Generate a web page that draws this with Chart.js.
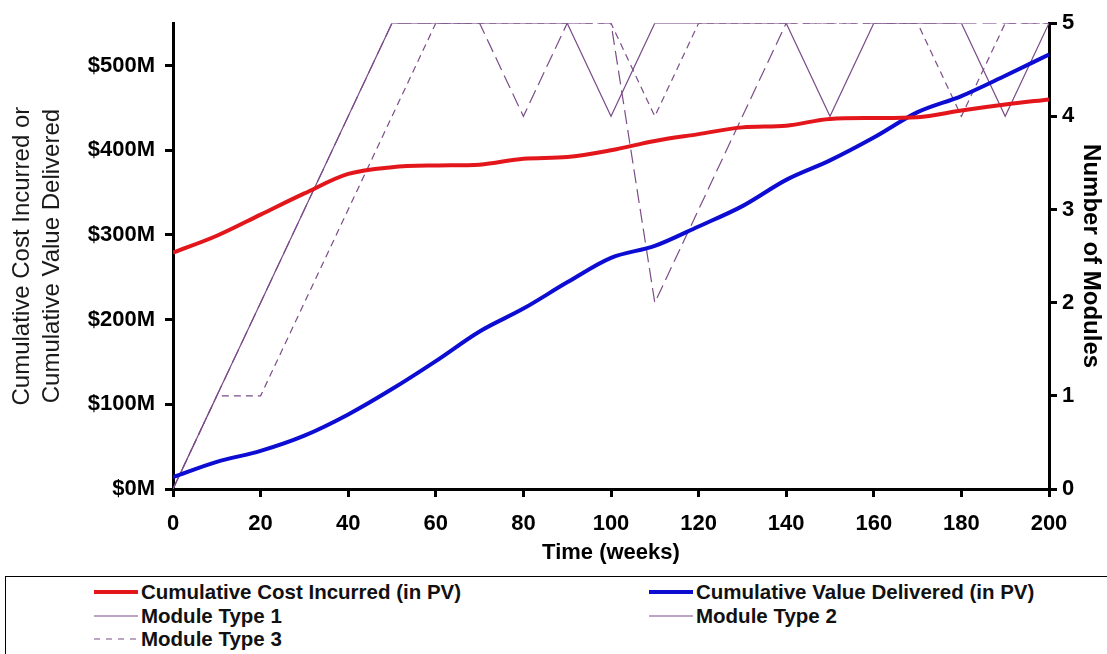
<!DOCTYPE html>
<html>
<head>
<meta charset="utf-8">
<title>Cumulative cost and value over time</title>
<script src="https://cdn.jsdelivr.net/npm/chart.js@4.4.1/dist/chart.umd.min.js"></script>
<style>
    body { margin: 0; background: #fff; font-family: 'Liberation Sans', Arial, sans-serif; }
    #wrap { position: relative; width: 1107px; height: 654px; overflow: hidden; }
    #chart { position: absolute; left: 0; top: 0; }
    #legend { position: absolute; left: 5px; top: 576px; width: 1110px; height: 100px; border: 1px solid #000; box-sizing: border-box; }
    .item { position: absolute; height: 24px; line-height: 24px; font-weight: bold; font-size: 20.5px; color: #111; white-space: nowrap; }
    .item svg { position: absolute; left: 0; top: 0; }
    .item span { position: absolute; left: 47px; top: 0; }
</style>
</head>
<body>
<div id="wrap">
    <canvas id="chart" width="1107" height="570"></canvas>
    <div id="legend"></div>
</div>
<script>
// data (every 10 weeks)
const weeks = [0, 10, 20, 30, 40, 50, 60, 70, 80, 90, 100, 110, 120, 130, 140, 150, 160, 170, 180, 190, 200];
const costIncurred = [279, 299, 324, 349, 372, 380, 382, 383, 390, 392, 400, 411, 419, 427, 429, 437, 438, 439, 447, 454, 460];
const valueDelivered = [14, 32, 45, 63, 88, 118, 151, 186, 213, 244, 273, 287, 310, 334, 365, 388, 415, 445, 464, 488, 513];
const moduleType1 = [0, 1, 2, 3, 4, 5, 5, 5, 5, 5, 4, 5, 5, 5, 5, 4, 5, 5, 5, 4, 5];
const moduleType2 = [0, 1, 2, 3, 4, 5, 5, 5, 4, 5, 5, 2, 3, 4, 5, 5, 5, 5, 5, 5, 5];
const moduleType3 = [0, 1, 1, 2, 3, 4, 5, 5, 5, 5, 5, 4, 5, 5, 5, 5, 5, 5, 4, 5, 5];

const xTicks = [0, 20, 40, 60, 80, 100, 120, 140, 160, 180, 200];
const moneyTicks = [0, 100, 200, 300, 400, 500];
const moduleTicks = [0, 1, 2, 3, 4, 5];

const RED = '#e3161b';
const BLUE = '#0c0cd2';
const PURPLE = '#7b4c88';
const FONT = "'Liberation Sans', Arial, sans-serif";

function points(values) {
    return weeks.map((w, i) => ({ x: w, y: values[i] }));
}

const tickFont = { family: FONT, size: 22, weight: 'bold' };

const chart = new Chart(document.getElementById('chart').getContext('2d'), {
    type: 'line',
    data: {
        datasets: [
            { label: 'Cumulative Cost Incurred (in PV)', data: points(costIncurred), yAxisID: 'y',
              borderColor: RED, borderWidth: 4, cubicInterpolationMode: 'monotone' },
            { label: 'Cumulative Value Delivered (in PV)', data: points(valueDelivered), yAxisID: 'y',
              borderColor: BLUE, borderWidth: 4, cubicInterpolationMode: 'monotone' },
            { label: 'Module Type 1', data: points(moduleType1), yAxisID: 'y1',
              borderColor: PURPLE, borderWidth: 1.2 },
            { label: 'Module Type 2', data: points(moduleType2), yAxisID: 'y1',
              borderColor: PURPLE, borderWidth: 1.2, borderDash: [14, 6] },
            { label: 'Module Type 3', data: points(moduleType3), yAxisID: 'y1',
              borderColor: PURPLE, borderWidth: 1.2, borderDash: [7, 5] }
        ]
    },
    options: {
        responsive: false,
        animation: false,
        elements: { point: { radius: 0 }, line: { tension: 0 } },
        layout: { padding: { top: 18, left: 0, right: 0, bottom: 0 } },
        plugins: { legend: { display: false }, tooltip: { enabled: false } },
        scales: {
            x: {
                type: 'linear', min: 0, max: 200,
                afterBuildTicks: s => { s.ticks = xTicks.map(v => ({ value: v })); },
                afterFit: s => { s.height = 81; },
                border: { color: '#000', width: 3 },
                grid: { drawOnChartArea: false, tickLength: 8, color: '#000', lineWidth: 3 },
                ticks: { color: '#000', font: tickFont, padding: 14, maxRotation: 0 },
                title: { display: true, text: 'Time (weeks)', color: '#000',
                         font: { family: FONT, size: 22, weight: 'bold' }, padding: { top: 0, bottom: 4 } }
            },
            y: {
                position: 'left', min: 0, max: 550,
                afterBuildTicks: s => { s.ticks = moneyTicks.map(v => ({ value: v })); },
                afterFit: s => { s.width = 173; },
                border: { color: '#000', width: 3 },
                grid: { drawOnChartArea: false, tickLength: 8, color: '#000', lineWidth: 3 },
                ticks: { color: '#000', font: tickFont, padding: 10, callback: v => '$' + v + 'M' },
                title: { display: true, text: ['Cumulative Cost Incurred or', 'Cumulative Value Delivered'],
                         color: '#1a1a1a', font: { family: FONT, size: 24, lineHeight: 1.25 },
                         padding: { top: 7, bottom: 0 } }
            },
            y1: {
                position: 'right', min: 0, max: 5,
                afterBuildTicks: s => { s.ticks = moduleTicks.map(v => ({ value: v })); },
                afterFit: s => { s.width = 58; },
                border: { color: '#000', width: 3 },
                grid: { drawOnChartArea: false, tickLength: 8, color: '#000', lineWidth: 3 },
                ticks: { color: '#000', font: tickFont, padding: 5 },
                title: { display: true, text: 'Number of Modules', color: '#000',
                         font: { family: FONT, size: 24, weight: 'bold' }, padding: { top: 2, bottom: 0 } }
            }
        }
    }
});

// legend laid out in two columns like the reference
const legendSpots = [[88, 3], [643, 3], [88, 27], [643, 27], [88, 50]];
const legendLine = [
    { w: 4, dash: '' },
    { w: 4, dash: '' },
    { w: 1.2, dash: '' },
    { w: 1.2, dash: '' },
    { w: 1.2, dash: '6 6' }
];
const legend = document.getElementById('legend');
chart.data.datasets.forEach((ds, i) => {
    const item = document.createElement('div');
    item.className = 'item';
    item.style.left = legendSpots[i][0] + 'px';
    item.style.top = legendSpots[i][1] + 'px';
    const st = legendLine[i];
    item.innerHTML = '<svg width="46" height="24"><line x1="0" y1="12" x2="44" y2="12" stroke="' + ds.borderColor +
        '" stroke-width="' + st.w + '"' + (st.dash ? ' stroke-dasharray="' + st.dash + '"' : '') + '/></svg>' +
        '<span>' + ds.label + '</span>';
    legend.appendChild(item);
});
</script>
</body>
</html>
